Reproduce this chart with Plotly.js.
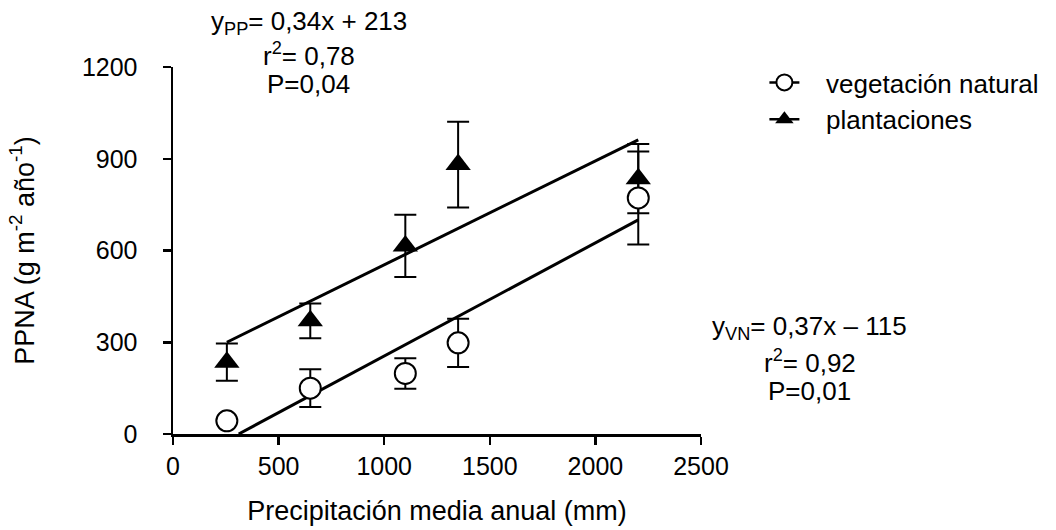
<!DOCTYPE html>
<html>
<head>
<meta charset="utf-8">
<script src="https://cdn.plot.ly/plotly-3.0.1.min.js"></script>
<style>html,body{margin:0;padding:0;background:#fff;}#chart{width:1056px;height:530px;}</style>
</head>
<body>
<div id="chart"></div>
<script>
// Data
const precip = [255, 650, 1100, 1350, 2203];
const vegNatural = [43, 150, 198, 298, 772];
const vegNaturalErr = [null, 62, 50, 79, 152];
const plantaciones = [235, 370, 615, 881, 835];
const plantacionesErr = [61, 57, 102, 140, 113];

// Regression line end points
const ppLineX = [255, 2203];
const ppLineY = [300, 962];
const vnLineX = [311, 2203];
const vnLineY = [0, 700];

const xTicks = [0, 500, 1000, 1500, 2000, 2500];
const yTicks = [0, 300, 600, 900, 1200];

const FONT = 'Liberation Sans, Arial, sans-serif';
const FS = 25;   // tick labels
const FT = 26;   // legend, annotations
const FA = 27;   // axis titles

const M = {l: 173, r: 350, t: 67, b: 96};
const W = 1056, H = 530;
const pw = W - M.l - M.r, ph = H - M.t - M.b;
const px = x => (x - M.l) / pw;
const py = y => (H - M.b - y) / ph;
const gap = '\u00a0\u00a0\u00a0';

const traces = [
  {x: ppLineX, y: ppLineY, mode: 'lines', line: {color: '#000', width: 3}, showlegend: false, hoverinfo: 'skip'},
  {x: vnLineX, y: vnLineY, mode: 'lines', line: {color: '#000', width: 3}, showlegend: false, hoverinfo: 'skip'},
  {x: precip, y: plantaciones, mode: 'markers', name: 'plantaciones', showlegend: false,
   marker: {symbol: 'triangle-up', size: 22, color: '#000'},
   error_y: {type: 'data', array: plantacionesErr, visible: true, color: '#000', thickness: 2, width: 11}},
  {x: precip, y: vegNatural, mode: 'markers', name: 'vegetación natural', showlegend: false,
   marker: {symbol: 'circle', size: 21, color: '#fff', line: {color: '#000', width: 2}},
   error_y: {type: 'data', array: vegNaturalErr, visible: true, color: '#000', thickness: 2, width: 11}},
  {x: [null], y: [null], mode: 'lines+markers', name: gap + 'vegetación natural', legendgroup: 'a',
   line: {color: '#000', width: 2.5}, marker: {symbol: 'circle', size: 16, color: '#fff', line: {color: '#000', width: 2}}},
  {x: [null], y: [null], mode: 'lines+markers', name: gap + 'plantaciones', legendgroup: 'b',
   line: {color: '#000', width: 2.5}, marker: {symbol: 'triangle-up', size: 18, color: '#000'}}
];

function ann(text, x, y) {
  return {text: text, x: px(x), y: py(y), xref: 'paper', yref: 'paper', showarrow: false,
          xanchor: 'center', yanchor: 'middle', font: {family: FONT, size: FT, color: '#000'}};
}

const layout = {
  width: W, height: H,
  margin: M,
  paper_bgcolor: '#fff', plot_bgcolor: '#fff',
  font: {family: FONT, size: FS, color: '#000'},
  showlegend: true,
  legend: {x: px(770), y: py(59), xanchor: 'left', yanchor: 'top', font: {family: FONT, size: FT},
           tracegroupgap: 14, bgcolor: 'rgba(0,0,0,0)', traceorder: 'normal'},
  xaxis: {range: [0, 2500], tickvals: xTicks, ticktext: xTicks.map(String), showgrid: false, zeroline: false,
          showline: true, linecolor: '#000', linewidth: 2.5, ticks: 'outside', ticklen: 8, tickwidth: 2.5, tickcolor: '#000',
          ticklabelstandoff: 0, tickfont: {family: FONT, size: FS},
          title: {text: 'Precipitación media anual (mm)', font: {family: FONT, size: FA}, standoff: 23}, automargin: false},
  yaxis: {range: [0, 1200], tickvals: yTicks, ticktext: yTicks.map(String), showgrid: false, zeroline: false,
          showline: true, linecolor: '#000', linewidth: 2.5, ticks: 'outside', ticklen: 8, tickwidth: 2.5, tickcolor: '#000',
          ticklabelstandoff: 20, tickfont: {family: FONT, size: FS},
          title: {text: 'PPNA (g m<sup>-2</sup> año<sup>-1</sup>)', font: {family: FONT, size: FA}, standoff: 40}, automargin: false},
  annotations: [
    ann('y<sub>PP</sub>= 0,34x + 213', 310, 22),
    ann('r<sup>2</sup>= 0,78', 310, 55),
    ann('P=0,04', 310, 84),
    ann('y<sub>VN</sub>= 0,37x – 115', 816, 327),
    ann('r<sup>2</sup>= 0,92', 816, 361),
    ann('P=0,01', 816, 391)
  ]
};

Plotly.newPlot('chart', traces, layout, {displayModeBar: false, staticPlot: true});
</script>
</body>
</html>
